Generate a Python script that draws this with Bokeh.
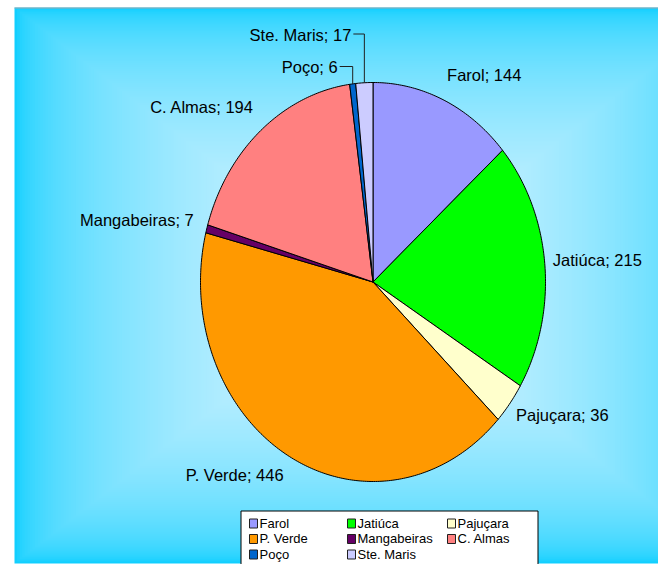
import numpy as np
from bokeh.plotting import figure
from bokeh.models import Range1d
from bokeh.embed import file_html
from bokeh.resources import INLINE
from bokeh.core.properties import value

# ---- data ----
categories = ["Farol", "Jatiúca", "Pajuçara", "P. Verde", "Mangabeiras", "C. Almas", "Poço", "Ste. Maris"]
counts = [144, 215, 36, 446, 7, 194, 6, 17]
colors = ["#9999ff", "#00ff00", "#ffffcc", "#ff9900", "#660066", "#ff8080", "#0066cc", "#ccccff"]

# ---- layout ----
W, H = 658, 564
FONT = "Liberation Sans"
TDY = -6.5  # text baseline correction

p = figure(width=W, height=H, x_range=Range1d(0, W), y_range=Range1d(H, 0),
           output_backend="svg", toolbar_location=None, min_border=0,
           x_axis_location=None, y_axis_location=None)
p.grid.visible = False
p.outline_line_color = None
p.background_fill_color = "white"
p.border_fill_color = "white"

# ---- background: rectangular gradient (light centre -> cyan edges) ----
gcx, gcy, hx, hy = 372.0, 285.0, 358.0, 278.0
N = 140
ts = np.arange(N, 0, -1) / N
f = (1 - ts + 0.5 / N) ** 0.45
edge = np.array([0, 204, 255])
cent = np.array([225, 245, 255])
bg_cols = ["#%02x%02x%02x" % tuple(int(round(e + (c - e) * fk)) for e, c in zip(edge, cent)) for fk in f]
p.quad(left=gcx - ts * hx, right=gcx + ts * hx, top=gcy - ts * hy, bottom=gcy + ts * hy,
       fill_color=bg_cols, line_color=None)
p.line([14, W], [7.5, 7.5], line_color="#9aa8b0", line_width=1)

# ---- pie (elliptical) ----
cx, cy, rx, ry = 372.5, 281.5, 172.5, 199.5
total = float(sum(counts))
cum = np.concatenate([[0], np.cumsum(counts)])
ang = 2 * np.pi * cum / total
pxs, pys = [], []
for i in range(len(counts)):
    tt = np.linspace(ang[i], ang[i + 1], max(4, int(counts[i] / total * 500)))
    pxs.append([cx] + list(cx + rx * np.sin(tt)) + [cx])
    pys.append([cy] + list(cy - ry * np.cos(tt)) + [cy])
p.patches(pxs, pys, fill_color=colors, line_color="black", line_width=1)

# ---- data labels ----
label_offsets = [(3, -19, "left"), (8, 2, "left"), (6, 18, "left"), (-6, 25, "right"),
                 (-13, -2, "right"), (-7, -17, "right"), None, None]
leader_level = {6: (66, 13), 7: (33.5, 11)}
mid = (ang[:-1] + ang[1:]) / 2
for i, name in enumerate(categories):
    ex, ey = cx + rx * np.sin(mid[i]), cy - ry * np.cos(mid[i])
    txt = f"{name}; {counts[i]}"
    if label_offsets[i] is not None:
        dx, dy, al = label_offsets[i]
        tx, ty = ex + dx, ey + dy
    else:
        ly, ll = leader_level[i]
        p.line([ex, ex, ex - ll], [ey, ly, ly], line_color="#202020", line_width=1)
        tx, ty, al = ex - ll - 2, ly + 7, "right"
    p.text(x=[tx], y=[ty + TDY], text=[txt], text_font=value(FONT), text_font_size="16.5px",
           text_color="black", text_align=al, text_baseline="alphabetic")

# ---- legend ----
p.quad(left=[240.5], right=[537.5], top=[510.5], bottom=[H + 10], fill_color="white",
       line_color="black", line_width=1)
col_x = [249, 347, 447]
row_base = [528.0, 543.5, 559.0]
for i, name in enumerate(categories):
    r, c = divmod(i, 3)
    lx, lb = col_x[c], row_base[r]
    p.quad(left=[lx], right=[lx + 8], top=[lb - 9.5], bottom=[lb - 0.5],
           fill_color=colors[i], line_color="#202020", line_width=1)
    p.text(x=[lx + 10], y=[lb + TDY * 0.8], text=[name], text_font=value(FONT), text_font_size="13px",
           text_color="black", text_align="left", text_baseline="alphabetic")

open("out.html", "w").write(file_html(p, INLINE))
